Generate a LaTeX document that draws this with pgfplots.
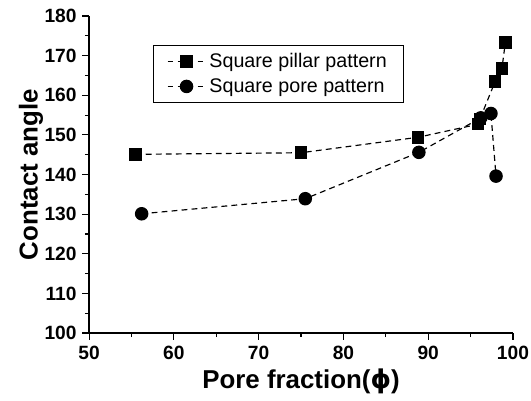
\documentclass[border=0pt]{standalone}
\usepackage{pgfplots}
\pgfplotsset{compat=1.18}
\usepackage{fontspec}
\setmainfont{Liberation Sans}
\newfontfamily\dejavu{DejaVu Sans}
\pgfplotsset{longlegend/.style={legend image code/.code={%
  \draw[mark repeat=2,mark phase=2,##1] plot coordinates {(0cm,0cm) (0.4cm,0cm) (0.8cm,0cm)};}}}
\begin{document}
\begin{tikzpicture}
\begin{axis}[
  scale only axis, width=254pt, height=190pt,
  xmin=50, xmax=100, ymin=100, ymax=180,
  xtick={50,60,...,100}, ytick={100,110,...,180},
  minor x tick num=1, minor y tick num=1,
  axis x line*=bottom, axis y line*=left,
  axis line style={line width=0.8pt, -},
  tick style={black, line width=0.7pt},
  tick align=outside,
  major tick length=4pt, minor tick length=2.5pt,
  /pgf/number format/assume math mode=true,
  ticklabel style={font=\bfseries\fontsize{11.5}{13}\selectfont},
  xlabel={Pore fraction({\dejavu\bfseries ϕ})}, ylabel={Contact angle},
  label style={font=\bfseries\fontsize{15.5}{18}\selectfont},
  xlabel style={yshift=1pt},
  ylabel style={yshift=-6pt},
  legend style={at={(0.151,0.908)}, anchor=north west, draw=black, line width=0.6pt,
    font=\fontsize{11.8}{13}\selectfont, inner xsep=8pt, inner ysep=2.5pt, row sep=1pt},
  legend cell align=left,
  clip=false,
]
\addplot[longlegend, black, dash pattern=on 3.5pt off 2.5pt, line width=0.7pt, mark=square*, mark size=3.4pt, mark options={solid}]
coordinates {(55.5,145.1) (75,145.5) (88.8,149.4) (95.9,152.7) (96.1,154.0) (97.9,163.5) (98.7,166.8) (99.1,173.3)};
\addlegendentry{Square pillar pattern}
\addplot[longlegend, black, dash pattern=on 3.5pt off 2.5pt, line width=0.7pt, mark=*, mark size=3.7pt, mark options={solid}]
coordinates {(56.2,130.1) (75.5,133.9) (88.9,145.6) (96.2,154.3) (97.4,155.4) (98.0,139.6)};
\addlegendentry{Square pore pattern}
\end{axis}
\pgfresetboundingbox
\path[use as bounding box] ([shift={(-53.4pt,-40.2pt)}]current axis.south west) rectangle ([shift={(10.8pt,9.6pt)}]current axis.north east);
\end{tikzpicture}
\end{document}
